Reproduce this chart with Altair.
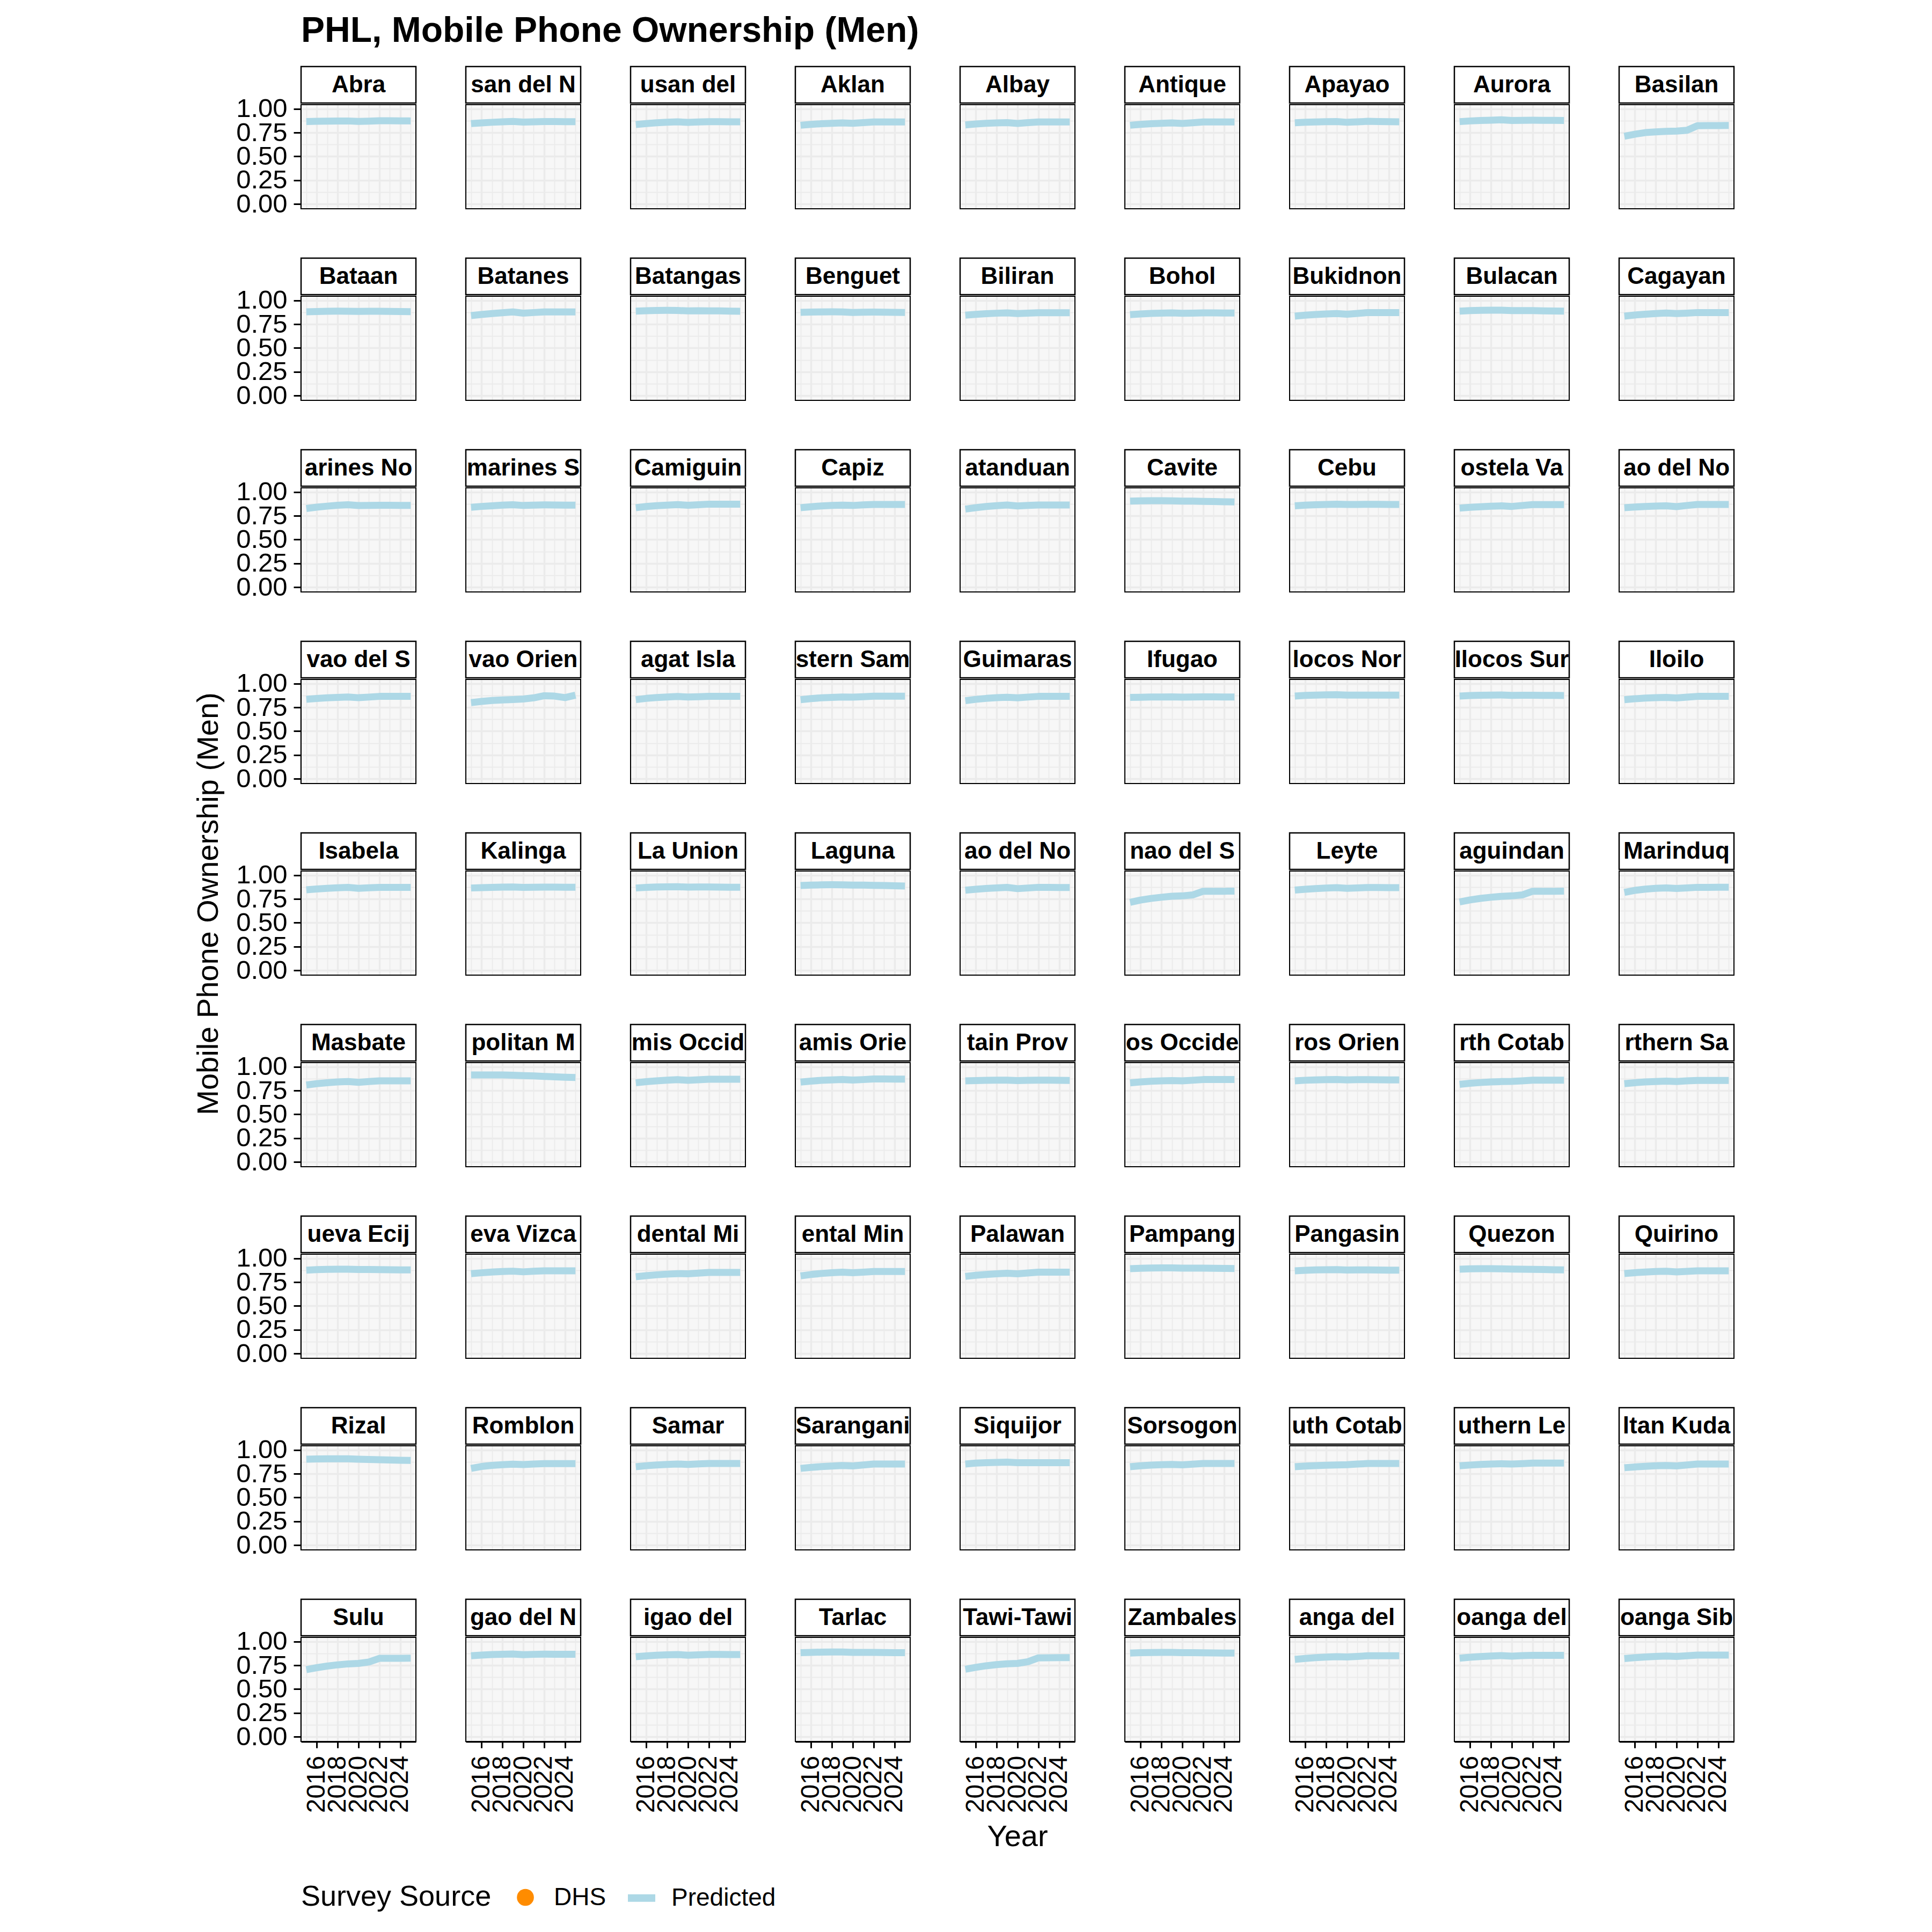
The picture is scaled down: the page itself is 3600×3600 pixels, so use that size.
import altair as alt
import pandas as pd

years = list(range(2015, 2026))

provinces = [
    "Abra", "Agusan del Norte", "Agusan del Sur", "Aklan", "Albay", "Antique", "Apayao", "Aurora", "Basilan",
    "Bataan", "Batanes", "Batangas", "Benguet", "Biliran", "Bohol", "Bukidnon", "Bulacan", "Cagayan",
    "Camarines Norte", "Camarines Sur", "Camiguin", "Capiz", "Catanduanes", "Cavite", "Cebu", "Compostela Valley", "Davao del Norte",
    "Davao del Sur", "Davao Oriental", "Dinagat Islands", "Eastern Samar", "Guimaras", "Ifugao", "Ilocos Norte", "Ilocos Sur", "Iloilo",
    "Isabela", "Kalinga", "La Union", "Laguna", "Lanao del Norte", "Lanao del Sur", "Leyte", "Maguindanao", "Marinduque",
    "Masbate", "Metropolitan Manila", "Misamis Occidental", "Misamis Oriental", "Mountain Province", "Negros Occidental", "Negros Oriental", "North Cotabato", "Northern Samar",
    "Nueva Ecija", "Nueva Vizcaya", "Occidental Mindoro", "Oriental Mindoro", "Palawan", "Pampanga", "Pangasinan", "Quezon", "Quirino",
    "Rizal", "Romblon", "Samar", "Sarangani", "Siquijor", "Sorsogon", "South Cotabato", "Southern Leyte", "Sultan Kudarat",
    "Sulu", "Surigao del Norte", "Surigao del Sur", "Tarlac", "Tawi-Tawi", "Zambales", "Zamboanga del Norte", "Zamboanga del Sur", "Zamboanga Sibugay",
]

# predicted ownership 2015..2025, one list per province (same order as provinces)
ownership = [
    [0.866, 0.868, 0.870, 0.871, 0.872, 0.867, 0.870, 0.874, 0.874, 0.873, 0.872],
    [0.844, 0.852, 0.858, 0.863, 0.867, 0.860, 0.863, 0.865, 0.865, 0.864, 0.864],
    [0.835, 0.845, 0.853, 0.859, 0.863, 0.857, 0.861, 0.864, 0.864, 0.863, 0.863],
    [0.827, 0.836, 0.843, 0.848, 0.851, 0.847, 0.854, 0.861, 0.861, 0.861, 0.861],
    [0.831, 0.840, 0.847, 0.851, 0.854, 0.846, 0.854, 0.861, 0.861, 0.861, 0.861],
    [0.827, 0.836, 0.843, 0.848, 0.851, 0.846, 0.853, 0.861, 0.861, 0.861, 0.861],
    [0.853, 0.858, 0.862, 0.864, 0.866, 0.858, 0.863, 0.868, 0.866, 0.864, 0.863],
    [0.865, 0.872, 0.877, 0.880, 0.884, 0.877, 0.879, 0.880, 0.879, 0.878, 0.877],
    [0.712, 0.733, 0.750, 0.757, 0.763, 0.766, 0.774, 0.822, 0.823, 0.824, 0.825],

    [0.880, 0.883, 0.886, 0.887, 0.886, 0.884, 0.885, 0.885, 0.884, 0.882, 0.881],
    [0.840, 0.852, 0.862, 0.870, 0.878, 0.866, 0.872, 0.878, 0.878, 0.878, 0.878],
    [0.887, 0.891, 0.894, 0.895, 0.894, 0.889, 0.891, 0.890, 0.889, 0.887, 0.886],
    [0.874, 0.877, 0.879, 0.880, 0.879, 0.873, 0.876, 0.877, 0.876, 0.874, 0.873],
    [0.844, 0.853, 0.860, 0.865, 0.869, 0.861, 0.866, 0.870, 0.870, 0.870, 0.870],
    [0.850, 0.857, 0.863, 0.866, 0.868, 0.864, 0.866, 0.868, 0.868, 0.867, 0.867],
    [0.835, 0.844, 0.851, 0.857, 0.861, 0.855, 0.863, 0.872, 0.872, 0.872, 0.872],
    [0.887, 0.892, 0.895, 0.897, 0.896, 0.892, 0.893, 0.892, 0.890, 0.888, 0.887],
    [0.835, 0.846, 0.855, 0.862, 0.867, 0.861, 0.866, 0.872, 0.872, 0.872, 0.872],

    [0.826, 0.840, 0.851, 0.860, 0.866, 0.857, 0.859, 0.860, 0.860, 0.859, 0.859],
    [0.839, 0.848, 0.855, 0.861, 0.866, 0.858, 0.862, 0.864, 0.863, 0.862, 0.861],
    [0.835, 0.847, 0.856, 0.862, 0.867, 0.860, 0.866, 0.872, 0.872, 0.872, 0.872],
    [0.835, 0.845, 0.853, 0.858, 0.862, 0.858, 0.864, 0.869, 0.869, 0.869, 0.869],
    [0.820, 0.835, 0.847, 0.856, 0.863, 0.853, 0.858, 0.863, 0.863, 0.863, 0.863],
    [0.904, 0.907, 0.908, 0.908, 0.906, 0.904, 0.903, 0.901, 0.899, 0.897, 0.895],
    [0.854, 0.861, 0.866, 0.869, 0.871, 0.868, 0.869, 0.870, 0.870, 0.869, 0.869],
    [0.831, 0.839, 0.845, 0.850, 0.854, 0.848, 0.858, 0.867, 0.867, 0.867, 0.867],
    [0.835, 0.842, 0.847, 0.851, 0.854, 0.846, 0.858, 0.869, 0.869, 0.869, 0.869],

    [0.835, 0.843, 0.850, 0.855, 0.859, 0.851, 0.858, 0.865, 0.865, 0.865, 0.865],
    [0.800, 0.812, 0.822, 0.828, 0.832, 0.838, 0.850, 0.872, 0.868, 0.852, 0.878],
    [0.831, 0.844, 0.853, 0.859, 0.864, 0.859, 0.862, 0.866, 0.866, 0.865, 0.865],
    [0.831, 0.842, 0.850, 0.855, 0.859, 0.857, 0.862, 0.867, 0.867, 0.867, 0.867],
    [0.820, 0.834, 0.844, 0.851, 0.856, 0.850, 0.858, 0.865, 0.865, 0.865, 0.865],
    [0.854, 0.856, 0.858, 0.859, 0.860, 0.857, 0.858, 0.860, 0.860, 0.859, 0.859],
    [0.869, 0.875, 0.879, 0.881, 0.882, 0.878, 0.879, 0.879, 0.879, 0.878, 0.878],
    [0.869, 0.874, 0.877, 0.879, 0.880, 0.876, 0.877, 0.877, 0.876, 0.875, 0.874],
    [0.831, 0.840, 0.847, 0.852, 0.855, 0.849, 0.857, 0.865, 0.865, 0.865, 0.865],

    [0.846, 0.855, 0.862, 0.867, 0.871, 0.862, 0.867, 0.871, 0.871, 0.871, 0.871],
    [0.865, 0.869, 0.872, 0.874, 0.875, 0.871, 0.873, 0.874, 0.874, 0.873, 0.873],
    [0.865, 0.871, 0.875, 0.877, 0.878, 0.874, 0.875, 0.875, 0.874, 0.873, 0.873],
    [0.891, 0.895, 0.898, 0.899, 0.898, 0.895, 0.895, 0.893, 0.891, 0.888, 0.886],
    [0.842, 0.852, 0.860, 0.866, 0.871, 0.858, 0.865, 0.872, 0.871, 0.870, 0.870],
    [0.715, 0.738, 0.755, 0.768, 0.778, 0.782, 0.792, 0.831, 0.831, 0.831, 0.832],
    [0.843, 0.852, 0.859, 0.864, 0.868, 0.861, 0.866, 0.870, 0.870, 0.869, 0.869],
    [0.719, 0.740, 0.756, 0.768, 0.777, 0.782, 0.792, 0.831, 0.831, 0.831, 0.832],
    [0.818, 0.840, 0.853, 0.861, 0.866, 0.860, 0.866, 0.872, 0.872, 0.873, 0.873],

    [0.808, 0.822, 0.832, 0.840, 0.845, 0.836, 0.845, 0.852, 0.852, 0.852, 0.852],
    [0.913, 0.914, 0.914, 0.913, 0.911, 0.906, 0.903, 0.898, 0.894, 0.890, 0.887],
    [0.831, 0.843, 0.852, 0.859, 0.864, 0.857, 0.863, 0.869, 0.869, 0.869, 0.869],
    [0.839, 0.849, 0.857, 0.862, 0.866, 0.860, 0.865, 0.871, 0.871, 0.870, 0.870],
    [0.852, 0.855, 0.857, 0.858, 0.858, 0.855, 0.857, 0.858, 0.858, 0.857, 0.856],
    [0.831, 0.840, 0.847, 0.852, 0.855, 0.852, 0.858, 0.865, 0.865, 0.865, 0.865],
    [0.852, 0.858, 0.862, 0.864, 0.866, 0.862, 0.864, 0.864, 0.863, 0.862, 0.862],
    [0.815, 0.826, 0.834, 0.840, 0.844, 0.846, 0.852, 0.859, 0.859, 0.859, 0.859],
    [0.822, 0.832, 0.840, 0.845, 0.849, 0.844, 0.851, 0.856, 0.856, 0.856, 0.856],

    [0.876, 0.881, 0.884, 0.886, 0.885, 0.882, 0.882, 0.881, 0.880, 0.879, 0.878],
    [0.839, 0.848, 0.856, 0.861, 0.865, 0.858, 0.864, 0.869, 0.869, 0.869, 0.869],
    [0.807, 0.818, 0.827, 0.834, 0.839, 0.838, 0.845, 0.852, 0.852, 0.852, 0.852],
    [0.816, 0.830, 0.841, 0.849, 0.855, 0.849, 0.855, 0.861, 0.861, 0.861, 0.861],
    [0.810, 0.822, 0.831, 0.838, 0.843, 0.838, 0.846, 0.854, 0.854, 0.854, 0.854],
    [0.891, 0.895, 0.898, 0.900, 0.900, 0.897, 0.897, 0.896, 0.895, 0.894, 0.893],
    [0.869, 0.874, 0.878, 0.880, 0.881, 0.877, 0.878, 0.878, 0.877, 0.876, 0.876],
    [0.886, 0.889, 0.891, 0.891, 0.890, 0.887, 0.886, 0.884, 0.882, 0.880, 0.878],
    [0.840, 0.849, 0.856, 0.861, 0.864, 0.857, 0.863, 0.869, 0.869, 0.869, 0.869],

    [0.902, 0.905, 0.907, 0.907, 0.906, 0.902, 0.900, 0.897, 0.894, 0.891, 0.889],
    [0.806, 0.826, 0.838, 0.845, 0.850, 0.846, 0.851, 0.856, 0.856, 0.856, 0.856],
    [0.824, 0.834, 0.842, 0.847, 0.851, 0.848, 0.853, 0.857, 0.857, 0.857, 0.857],
    [0.806, 0.816, 0.825, 0.831, 0.836, 0.832, 0.842, 0.852, 0.852, 0.852, 0.852],
    [0.852, 0.861, 0.866, 0.869, 0.871, 0.866, 0.866, 0.866, 0.866, 0.866, 0.865],
    [0.824, 0.833, 0.840, 0.845, 0.848, 0.843, 0.850, 0.857, 0.857, 0.857, 0.857],
    [0.824, 0.830, 0.835, 0.839, 0.842, 0.845, 0.851, 0.857, 0.857, 0.857, 0.857],
    [0.833, 0.841, 0.848, 0.852, 0.855, 0.851, 0.856, 0.861, 0.861, 0.861, 0.861],
    [0.813, 0.821, 0.828, 0.833, 0.836, 0.832, 0.842, 0.852, 0.852, 0.852, 0.852],

    [0.705, 0.725, 0.742, 0.755, 0.765, 0.770, 0.785, 0.823, 0.823, 0.824, 0.825],
    [0.850, 0.857, 0.863, 0.866, 0.868, 0.862, 0.865, 0.867, 0.866, 0.866, 0.865],
    [0.840, 0.849, 0.856, 0.860, 0.863, 0.856, 0.860, 0.864, 0.864, 0.863, 0.863],
    [0.882, 0.886, 0.888, 0.889, 0.889, 0.886, 0.886, 0.885, 0.884, 0.883, 0.882],
    [0.709, 0.728, 0.745, 0.757, 0.766, 0.770, 0.788, 0.828, 0.829, 0.830, 0.830],
    [0.878, 0.882, 0.884, 0.885, 0.885, 0.882, 0.882, 0.881, 0.880, 0.879, 0.878],
    [0.812, 0.822, 0.830, 0.836, 0.840, 0.837, 0.843, 0.850, 0.850, 0.850, 0.850],
    [0.825, 0.835, 0.842, 0.848, 0.852, 0.846, 0.851, 0.855, 0.855, 0.855, 0.855],
    [0.821, 0.830, 0.838, 0.843, 0.847, 0.843, 0.850, 0.857, 0.857, 0.857, 0.857],
]

sources = ["DHS", "Predicted"]
source_colors = ["#FF8C00", "#ADD8E6"]
source_shapes = ["circle", "M-1,-0.275H1V0.275H-1Z"]
source_sizes = [1000, 2601]
y_ticks = [0, 0.125, 0.25, 0.375, 0.5, 0.625, 0.75, 0.875, 1.0]

NCOL = 9
records = []
for i, (name, vals) in enumerate(zip(provinces, ownership)):
    for yr, v in zip(years, vals):
        records.append({"province": name, "year": yr, "value": v,
                        "source": "Predicted", "r": i // NCOL, "c": i % NCOL})
df = pd.DataFrame(records)

FONT = "Liberation Sans"
W, H = 214, 194

x_scale = alt.Scale(domain=[2014.5, 2025.5], nice=False, zero=False)
y_scale = alt.Scale(domain=[-0.049, 1.043], nice=False, zero=False)

x_axis = alt.Axis(
    values=years, format="d",
    labelExpr="datum.value % 2 == 0 ? datum.label : ''",
    labelAngle=270, labelFontSize=48, labelPadding=14, labelOverlap=False, labelFlush=False,
    tickSize=12, tickWidth=3,
    tickOpacity={"condition": {"test": "datum.value % 2 != 0", "value": 0}, "value": 1},
    gridWidth={"condition": {"test": "datum.value % 2 != 0", "value": 1.8}, "value": 3.5},
    domainWidth=3.5, title=None,
)
y_axis = alt.Axis(
    values=y_ticks,
    labelExpr="datum.value % 0.25 == 0 ? format(datum.value, '.2f') : ''",
    labelFontSize=49, labelPadding=12, labelOverlap=False, labelFlush=False,
    tickSize=14, tickWidth=3,
    tickOpacity={"condition": {"test": "datum.value % 0.25 != 0", "value": 0}, "value": 1},
    gridWidth={"condition": {"test": "datum.value % 0.25 != 0", "value": 1.8}, "value": 3.5},
    domainWidth=3.5, title=None,
)

legend = alt.Legend(
    title="Survey Source", orient="bottom", direction="horizontal", titleOrient="left",
    titleFontSize=54, titleFontWeight="normal", titleColor="black", titleFont=FONT, titleLimit=800,
    labelFontSize=46, labelColor="black", labelFont=FONT, labelLimit=600,
    labelOffset=30, columnPadding=40, titlePadding=40, symbolStrokeWidth=0, symbolOpacity=1,
    offset=60,
)

# survey points (none available for this indicator) - carries the legend
points = alt.Chart().transform_filter("datum.source == 'DHS'").mark_point(filled=True, opacity=1).encode(
    x=alt.X("year:Q", scale=x_scale, axis=x_axis),
    y=alt.Y("value:Q", scale=y_scale, axis=y_axis),
    color=alt.Color("source:N", scale=alt.Scale(domain=sources, range=source_colors), legend=legend),
    shape=alt.Shape("source:N", scale=alt.Scale(domain=sources, range=source_shapes), legend=legend),
    size=alt.Size("source:N", scale=alt.Scale(domain=sources, range=source_sizes), legend=legend),
)

line = alt.Chart().mark_line(strokeWidth=13, strokeJoin="round", strokeCap="butt").encode(
    x=alt.X("year:Q", scale=x_scale, axis=x_axis),
    y=alt.Y("value:Q", scale=y_scale, axis=y_axis),
    color=alt.Color("source:N", scale=alt.Scale(domain=sources, range=source_colors), legend=None),
)

border = alt.Chart().transform_filter("datum.year == 2015").mark_rect(
    fill="transparent", stroke="black", strokeWidth=2
).encode(x=alt.value(0), x2=alt.value(W), y=alt.value(0), y2=alt.value(H))

strip = alt.Chart().transform_filter("datum.year == 2015").mark_rect(
    fill="white", stroke="black", strokeWidth=2.5
).encode(x=alt.value(0), x2=alt.value(W), y=alt.value(-71), y2=alt.value(-3))

strip_text = alt.Chart().transform_filter("datum.year == 2015").transform_calculate(
    lab="length(datum.province) > 10 ? substring(datum.province, floor((length(datum.province) - 9) / 2), floor((length(datum.province) - 9) / 2) + 9) : datum.province"
).mark_text(font=FONT, fontSize=44, fontWeight="bold", align="center", baseline="middle", color="black",
            limit=W + 6, ellipsis="\u200b").encode(
    x=alt.value(W / 2), y=alt.value(-36), text="lab:N"
)

panel = alt.layer(points, line, border, strip, strip_text, data=df).properties(width=W, height=H)

chart = panel.facet(
    row=alt.Row("r:O", header=alt.Header(labels=False, title="Mobile Phone Ownership (Men)",
                                         titleOrient="left", titleFont=FONT, titleFontSize=56,
                                         titleFontWeight="normal", titleColor="black", titlePadding=11)),
    column=alt.Column("c:O", header=alt.Header(labels=False, title="Year", titleOrient="bottom",
                                               titleFont=FONT, titleFontSize=56, titleFontWeight="normal",
                                               titleColor="black", titlePadding=8)),
    spacing={"row": 163, "column": 93},
).properties(
    bounds="flush",
    title=alt.TitleParams("PHL, Mobile Phone Ownership (Men)", anchor="start", font=FONT, fontSize=66,
                          fontWeight="bold", color="black", offset=30, dx=200),
    padding={"left": 360, "top": 25, "right": 40, "bottom": 30},
).configure(font=FONT).configure_view(
    fill="#F7F7F7", stroke="transparent"
).configure_axis(
    domainColor="black", tickColor="black", labelColor="black", gridColor="#EBEBEB", labelFont=FONT
)

chart.save("out.html", embed_options={"renderer": "svg", "actions": False})
